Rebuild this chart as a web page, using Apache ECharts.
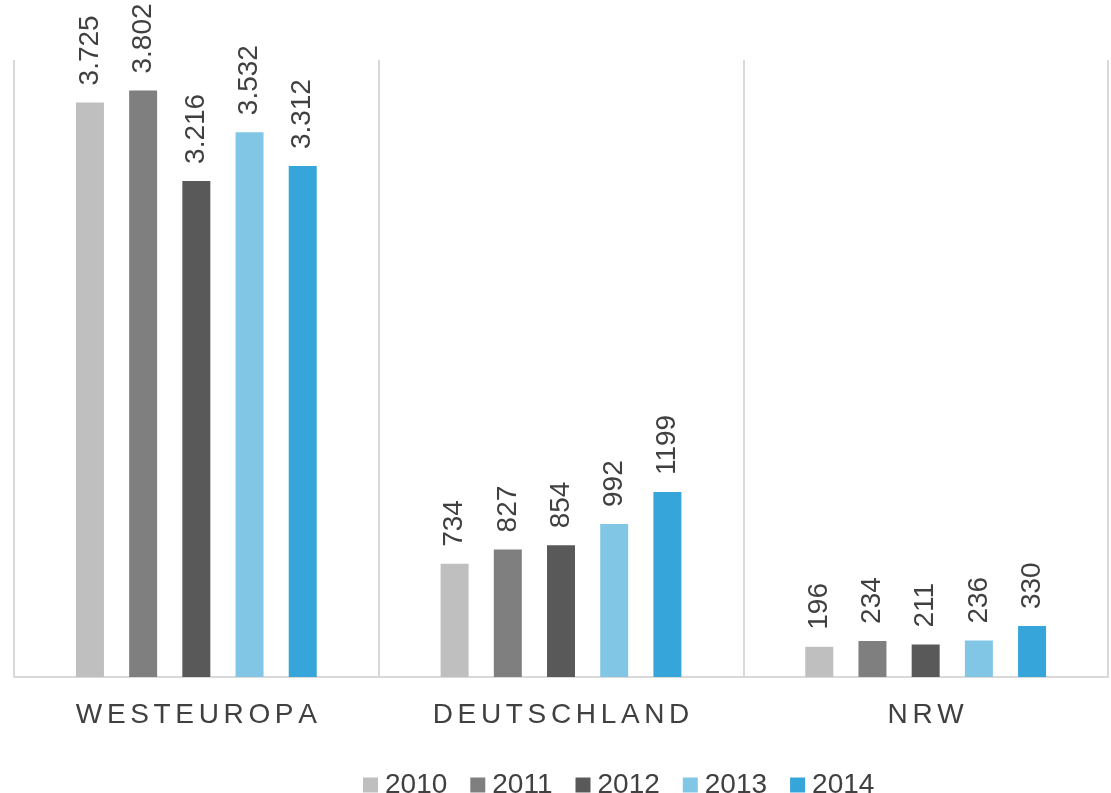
<!DOCTYPE html>
<html>
<head>
<meta charset="utf-8">
<script src="https://cdn.jsdelivr.net/npm/echarts@6/dist/echarts.min.js"></script>
<style>
html,body{margin:0;padding:0;background:#fff;}
#chart{width:1111px;height:793px;}
</style>
</head>
<body>
<div id="chart"></div>
<script>
const categories = ['WESTEUROPA', 'DEUTSCHLAND', 'NRW'];
const seriesNames = ['2010', '2011', '2012', '2013', '2014'];
const values2010 = [3725, 734, 196];
const values2011 = [3802, 827, 234];
const values2012 = [3216, 854, 211];
const values2013 = [3532, 992, 236];
const values2014 = [3312, 1199, 330];
const labels2010 = ['3.725', '734', '196'];
const labels2011 = ['3.802', '827', '234'];
const labels2012 = ['3.216', '854', '211'];
const labels2013 = ['3.532', '992', '236'];
const labels2014 = ['3.312', '1199', '330'];

const allValues = [values2010, values2011, values2012, values2013, values2014];
const allLabels = [labels2010, labels2011, labels2012, labels2013, labels2014];
const colors = ['#BFBFBF', '#7F7F7F', '#595959', '#82C6E6', '#36A5DA'];
const FONT = '"Liberation Sans", Arial, sans-serif';
const spaced = s => s.split('').join('\u2006');

const chart = echarts.init(document.getElementById('chart'));
chart.setOption({
  animation: false,
  backgroundColor: '#ffffff',
  color: colors,
  grid: { left: 14, right: 3, top: 60, bottom: 116, containLabel: false },
  legend: {
    data: seriesNames,
    left: 358,
    top: 766,
    icon: 'rect',
    itemWidth: 15,
    itemHeight: 15,
    itemGap: 23,
    textStyle: { fontFamily: FONT, fontSize: 28, color: '#404040', padding: [0, 0, 0, 2] }
  },
  xAxis: {
    type: 'category',
    data: categories,
    boundaryGap: true,
    axisLine: { show: true, lineStyle: { color: '#D9D9D9', width: 2 } },
    axisTick: { show: false },
    splitLine: { show: true, interval: 0, lineStyle: { color: '#D9D9D9', width: 2 } },
    axisLabel: {
      interval: 0,
      fontFamily: FONT, fontSize: 28, color: '#404040', margin: 24,
      formatter: v => spaced(v)
    }
  },
  yAxis: {
    type: 'value',
    min: 0,
    max: 4000,
    show: true,
    axisLine: { show: false },
    axisTick: { show: false },
    axisLabel: { show: false },
    splitLine: { show: false }
  },
  series: seriesNames.map((name, i) => ({
    name: name,
    type: 'bar',
    data: allValues[i],
    barWidth: 28,
    barGap: '90%',
    itemStyle: { color: colors[i] },
    label: {
      show: true,
      position: 'top',
      rotate: 90,
      align: 'left',
      verticalAlign: 'middle',
      distance: 17,
      fontFamily: FONT,
      fontSize: 28,
      color: '#404040',
      formatter: p => allLabels[i][p.dataIndex]
    }
  }))
});
</script>
</body>
</html>
